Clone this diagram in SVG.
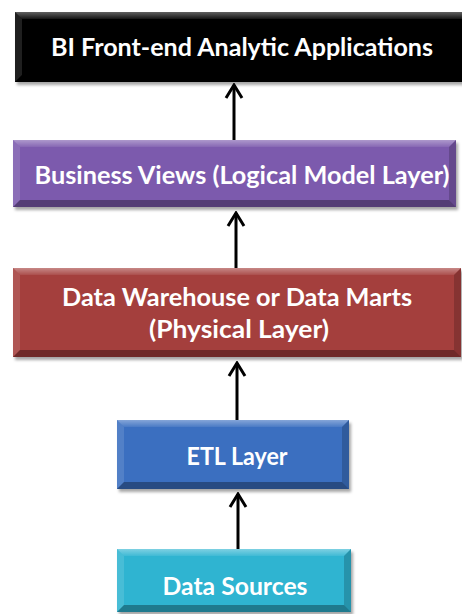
<svg xmlns="http://www.w3.org/2000/svg" width="462" height="614" viewBox="0 0 462 614">
  <style>
    .label { font-family: Lato, "Open Sans", "Liberation Sans", sans-serif; font-weight: 700; font-size: 24px; fill: #ffffff; text-anchor: middle; }
    .edge { stroke: #000000; stroke-width: 3; fill: none; marker-end: url(#chevron); }
    .hi { fill: url(#bevelTop); }
    .lside { fill: #ffffff; fill-opacity: 0.12; }
    .rside { fill: #000000; fill-opacity: 0.18; }
    .bside { fill: #000000; fill-opacity: 0.32; }
    .shadow { fill: #000000; fill-opacity: 0.35; filter: url(#soft); }
  </style>
  <defs>
    <linearGradient id="bevelTop" x1="0" y1="0" x2="0" y2="1">
      <stop offset="0" stop-color="#ffffff" stop-opacity="0.38"/>
      <stop offset="1" stop-color="#ffffff" stop-opacity="0.08"/>
    </linearGradient>
    <filter id="soft" x="-10%" y="-20%" width="120%" height="140%">
      <feGaussianBlur stdDeviation="1.6"/>
    </filter>
    <marker id="chevron" markerUnits="userSpaceOnUse" viewBox="-16 -10 18 20" markerWidth="18" markerHeight="20" refX="0" refY="0" orient="auto">
      <path d="M-13,-8 L0,0 L-13,8" fill="none" stroke="#000000" stroke-width="3" stroke-linejoin="miter"/>
    </marker>
  </defs>

  <rect width="462" height="614" fill="#ffffff"/>

  <!-- connectors: each arrow points up to the layer it feeds -->
  <g id="connectors">
    <line class="edge" x1="234" y1="140" x2="234" y2="85"/>
    <line class="edge" x1="236" y1="268" x2="236" y2="213"/>
    <line class="edge" x1="237" y1="420" x2="237" y2="363"/>
    <line class="edge" x1="238" y1="549" x2="238" y2="494"/>
  </g>

  <!-- BI front-end layer -->
  <g id="bi-frontend">
    <rect class="shadow" x="17" y="15" width="460" height="70"/>
    <rect x="15" y="12" width="460" height="70" fill="#000000"/>
    <polygon class="hi" points="15,12 475,12 469,19 22,19"/>
    <polygon class="lside" points="15,12 22,19 22,75 15,82"/>
    <polygon class="bside" points="15,82 22,75 469,75 475,82"/>
    <text class="label" x="242" y="56" textLength="382" lengthAdjust="spacingAndGlyphs">BI Front-end Analytic Applications</text>
  </g>

  <!-- logical model layer -->
  <g id="business-views">
    <rect class="shadow" x="15" y="143" width="443" height="67"/>
    <rect x="13" y="140" width="443" height="67" fill="#7c5aad"/>
    <polygon class="hi" points="13,140 456,140 449,147 20,147"/>
    <polygon class="lside" points="13,140 20,147 20,200 13,207"/>
    <polygon class="rside" points="456,140 449,147 449,200 456,207"/>
    <polygon class="bside" points="13,207 20,200 449,200 456,207"/>
    <text class="label" x="242" y="184" textLength="415" lengthAdjust="spacingAndGlyphs">Business Views (Logical Model Layer)</text>
  </g>

  <!-- physical layer -->
  <g id="data-warehouse">
    <rect class="shadow" x="15" y="271" width="448" height="89"/>
    <rect x="13" y="268" width="448" height="89" fill="#a43f3d"/>
    <polygon class="hi" points="13,268 461,268 454,275 20,275"/>
    <polygon class="lside" points="13,268 20,275 20,350 13,357"/>
    <polygon class="rside" points="461,268 454,275 454,350 461,357"/>
    <polygon class="bside" points="13,357 20,350 454,350 461,357"/>
    <text class="label" x="237" y="306" textLength="350" lengthAdjust="spacingAndGlyphs">Data Warehouse or Data Marts</text>
    <text class="label" x="239" y="338" textLength="180" lengthAdjust="spacingAndGlyphs">(Physical Layer)</text>
  </g>

  <!-- ETL layer -->
  <g id="etl-layer">
    <rect class="shadow" x="119" y="423" width="232" height="69"/>
    <rect x="117" y="420" width="232" height="69" fill="#3b6fc0"/>
    <polygon class="hi" points="117,420 349,420 342,427 124,427"/>
    <polygon class="lside" points="117,420 124,427 124,482 117,489"/>
    <polygon class="rside" points="349,420 342,427 342,482 349,489"/>
    <polygon class="bside" points="117,489 124,482 342,482 349,489"/>
    <text class="label" x="237" y="465" textLength="101" lengthAdjust="spacingAndGlyphs">ETL Layer</text>
  </g>

  <!-- source systems -->
  <g id="data-sources">
    <rect class="shadow" x="119" y="552" width="234" height="63"/>
    <rect x="117" y="549" width="234" height="63" fill="#2fb4d1"/>
    <polygon class="hi" points="117,549 351,549 344,556 124,556"/>
    <polygon class="lside" points="117,549 124,556 124,605 117,612"/>
    <polygon class="rside" points="351,549 344,556 344,605 351,612"/>
    <polygon class="bside" points="117,612 124,605 344,605 351,612"/>
    <text class="label" x="235" y="595" textLength="145" lengthAdjust="spacingAndGlyphs">Data Sources</text>
  </g>
</svg>
